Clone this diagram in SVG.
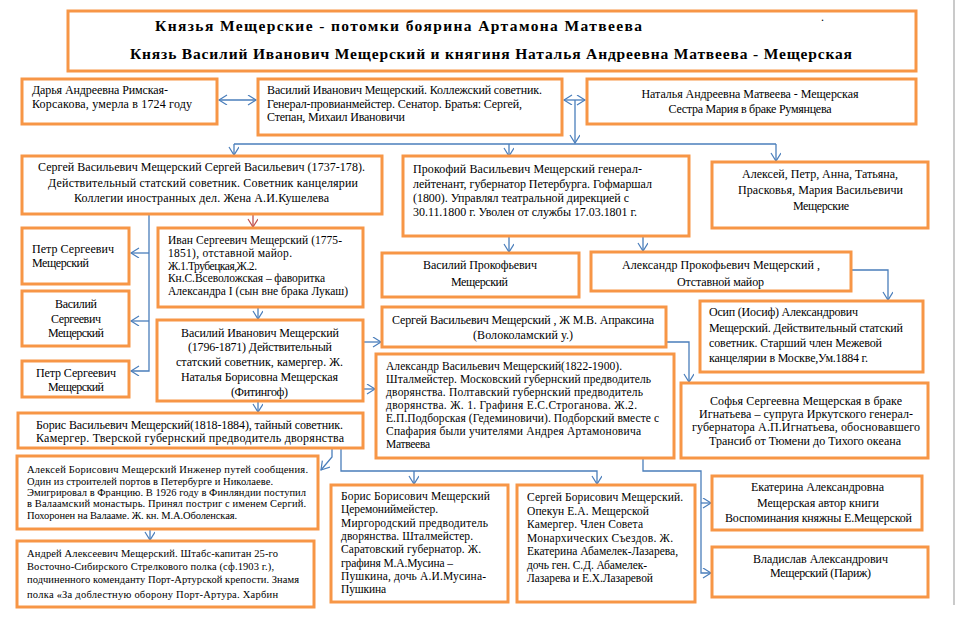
<svg xmlns="http://www.w3.org/2000/svg" width="959" height="623" viewBox="0 0 959 623" font-family="'Liberation Serif', 'DejaVu Serif', serif">
<style>
.box{fill:#fff;stroke:#f79646;stroke-width:3}
text{font-family:"Liberation Serif","DejaVu Serif",serif;fill:#000;font-size:12px}
.ttl{font-weight:bold;font-size:15.5px}
.s{font-size:11.5px}
.xs{font-size:10.5px}
.n{font-size:11.5px}
.m{text-anchor:middle}
.c{fill:none;stroke:#4a7ebb;stroke-width:1.3}
.r{fill:none;stroke:#c0504d;stroke-width:1.3}
</style>
<defs>
<marker id="a" markerUnits="userSpaceOnUse" markerWidth="12" markerHeight="12" refX="9" refY="5" orient="auto-start-reverse">
<path d="M1,0 L9,5 L1,10" fill="none" stroke="#4a7ebb" stroke-width="1.2"/>
</marker>
<marker id="ar" markerUnits="userSpaceOnUse" markerWidth="12" markerHeight="12" refX="9" refY="5" orient="auto">
<path d="M1,0 L9,5 L1,10" fill="none" stroke="#c0504d" stroke-width="1.2"/>
</marker>
</defs>
<rect width="959" height="623" fill="#fff"/>
<line x1="954" y1="0" x2="954" y2="605" stroke="#b8b8b8" stroke-width="1.5"/>

<g id="connectors">
<path class="c" d="M219,100 H256" marker-start="url(#a)" marker-end="url(#a)"/>
<path class="c" d="M564,100 H585" marker-start="url(#a)" marker-end="url(#a)"/>
<path class="c" d="M575,100 V143" marker-end="url(#a)"/>
<path class="c" d="M234,144 H776"/>
<path class="c" d="M234,144 V155" marker-end="url(#a)"/>
<path class="c" d="M509,144 V156" marker-end="url(#a)"/>
<path class="c" d="M776,144 V161" marker-end="url(#a)"/>
<path class="r" d="M253,215 V227" marker-end="url(#ar)"/>
<path class="c" d="M149,215 V371 H131" marker-end="url(#a)"/>
<path class="c" d="M149,253 H131" marker-end="url(#a)"/>
<path class="c" d="M149,321 H131" marker-end="url(#a)"/>
<path class="c" d="M258,308 V319" marker-end="url(#a)"/>
<path class="c" d="M364,342 H381" marker-end="url(#a)"/>
<path class="c" d="M364,389 H375" marker-end="url(#a)"/>
<path class="c" d="M258,402 V412" marker-end="url(#a)"/>
<path class="c" d="M509,237 V252" marker-end="url(#a)"/>
<path class="c" d="M643,237 V251" marker-end="url(#a)"/>
<path class="c" d="M852,270 H888 V300" marker-end="url(#a)"/>
<path class="c" d="M667,342 H689 V382" marker-end="url(#a)"/>
<path class="c" d="M643,459 V471 H701 V573 H711" marker-end="url(#a)"/>
<path class="c" d="M701,503 H711" marker-end="url(#a)"/>
<path class="c" d="M332,449 V457 L321,470" marker-end="url(#a)"/>
<path class="c" d="M341,449 V471 H597 V484" marker-end="url(#a)"/>
<path class="c" d="M414,471 V484" marker-end="url(#a)"/>
<path class="c" d="M150,530 V540" marker-end="url(#a)"/>
</g>

<g id="title">
<rect class="box" x="68" y="11" width="848" height="60"/>
<text class="ttl" x="155" y="31" textLength="487" lengthAdjust="spacing">Князья Мещерские - потомки боярина Артамона Матвеева</text>
<text class="ttl" x="130" y="59" textLength="722" lengthAdjust="spacing">Князь Василий Иванович Мещерский и княгиня Наталья Андреевна Матвеева - Мещерская</text>
<text x="821" y="21" font-size="10">.</text>
</g>

<g id="darya">
<rect class="box" x="22" y="79" width="195" height="45"/>
<text x="32" y="94" textLength="136" lengthAdjust="spacing">Дарья Андреевна Римская-</text>
<text x="32" y="108" textLength="160" lengthAdjust="spacing">Корсакова, умерла в 1724 году</text>
</g>

<g id="vasily">
<rect class="box" x="258" y="79" width="304" height="56"/>
<text x="267" y="94" textLength="275" lengthAdjust="spacing">Василий Иванович Мещерский. Коллежский советник.</text>
<text x="267" y="108" textLength="255" lengthAdjust="spacing">Генерал-провианмейстер. Сенатор. Братья: Сергей,</text>
<text x="267" y="121" textLength="138" lengthAdjust="spacing">Степан, Михаил Ивановичи</text>
</g>

<g id="natalya">
<rect class="box" x="587" y="79" width="329" height="45"/>
<text class="m" x="750" y="98" textLength="217" lengthAdjust="spacing">Наталья Андреевна Матвеева - Мещерская</text>
<text class="m" x="750" y="113" textLength="163" lengthAdjust="spacing">Сестра Мария в браке Румянцева</text>
</g>

<g id="sergey">
<rect class="box" x="22" y="156" width="360" height="58"/>
<text class="m" x="201.5" y="171" textLength="327" lengthAdjust="spacing">Сергей Васильевич Мещерский Сергей Васильевич (1737-178).</text>
<text class="m" x="203" y="187" textLength="310" lengthAdjust="spacing">Действительный статский советник. Советник канцелярии</text>
<text class="m" x="201.5" y="202" textLength="255" lengthAdjust="spacing">Коллегии иностранных дел. Жена А.И.Кушелева</text>
</g>

<g id="prokofy">
<rect class="box" x="403" y="156" width="286" height="80"/>
<text x="413" y="173" textLength="229" lengthAdjust="spacing">Прокофий Васильевич Мещерский генерал-</text>
<text x="413" y="188" textLength="239" lengthAdjust="spacing">лейтенант, губернатор Петербурга. Гофмаршал</text>
<text x="413" y="202" textLength="216" lengthAdjust="spacing">(1800). Управлял театральной дирекцией с</text>
<text x="413" y="216" textLength="224" lengthAdjust="spacing">30.11.1800 г. Уволен от службы 17.03.1801 г.</text>
</g>

<g id="siblings">
<rect class="box" x="712" y="162" width="216" height="66"/>
<text class="m" x="820" y="178" textLength="156" lengthAdjust="spacing">Алексей, Петр, Анна, Татьяна,</text>
<text class="m" x="820.5" y="194" textLength="165" lengthAdjust="spacing">Прасковья, Мария Васильевичи</text>
<text class="m" x="821" y="210" textLength="56" lengthAdjust="spacing">Мещерские</text>
</g>

<g id="petr1">
<rect class="box" x="22" y="228" width="107" height="56"/>
<text x="32" y="253" textLength="82" lengthAdjust="spacing">Петр Сергеевич</text>
<text x="32" y="267" textLength="57" lengthAdjust="spacing">Мещерский</text>
</g>

<g id="vasilyS">
<rect class="box" x="22" y="291" width="107" height="55"/>
<text class="m" x="76" y="308" textLength="42" lengthAdjust="spacing">Василий</text>
<text class="m" x="76" y="323" textLength="50" lengthAdjust="spacing">Сергеевич</text>
<text class="m" x="76" y="337" textLength="56" lengthAdjust="spacing">Мещерский</text>
</g>

<g id="petr2">
<rect class="box" x="22" y="361" width="107" height="36"/>
<text class="m" x="76" y="377" textLength="80" lengthAdjust="spacing">Петр Сергеевич</text>
<text class="m" x="76" y="391" textLength="56" lengthAdjust="spacing">Мещерский</text>
</g>

<g id="ivan">
<rect class="box" x="158" y="228" width="205" height="79"/>
<text class="s" x="168" y="244" textLength="174" lengthAdjust="spacing">Иван Сергеевич Мещерский (1775-</text>
<text class="s" x="168" y="257" textLength="124" lengthAdjust="spacing">1851), отставной майор.</text>
<text class="s" x="168" y="270" textLength="89" lengthAdjust="spacing">Ж.1.Трубецкая,Ж.2.</text>
<text class="s" x="168" y="282" textLength="157" lengthAdjust="spacing">Кн.С.Всеволожская – фаворитка</text>
<text class="s" x="168" y="295" textLength="180" lengthAdjust="spacing">Александра I (сын вне брака Лукаш)</text>
</g>

<g id="vasilyI">
<text class="m" x="260" y="337" textLength="158" lengthAdjust="spacing">Василий Иванович Мещерский</text>
<text class="m" x="260" y="351" textLength="144" lengthAdjust="spacing">(1796-1871) Действительный</text>
<text class="m" x="259.5" y="366" textLength="167" lengthAdjust="spacing">статский советник, камергер. Ж.</text>
<text class="m" x="259.5" y="381" textLength="157" lengthAdjust="spacing">Наталья Борисовна Мещерская</text>
<text class="m" x="259.5" y="396" textLength="57" lengthAdjust="spacing">(Фитингоф)</text>
<rect class="box" x="157" y="320" width="206" height="81" style="fill:none"/>
</g>

<g id="borisV">
<rect class="box" x="18" y="413" width="345" height="35"/>
<text x="36" y="429" textLength="307" lengthAdjust="spacing">Борис Васильевич Мещерский(1818-1884), тайный советник.</text>
<text x="36" y="442" textLength="308" lengthAdjust="spacing">Камергер. Тверской губернский предводитель дворянства</text>
</g>

<g id="vasilyProk">
<rect class="box" x="382" y="253" width="197" height="44"/>
<text class="m" x="480" y="269" textLength="114" lengthAdjust="spacing">Василий Прокофьевич</text>
<text class="m" x="479.5" y="286" textLength="57" lengthAdjust="spacing">Мещерский</text>
</g>

<g id="alexanderP">
<rect class="box" x="591" y="252" width="260" height="39"/>
<text class="m" x="721" y="269" textLength="198" lengthAdjust="spacing">Александр Прокофьевич Мещерский ,</text>
<text class="m" x="720.5" y="286" textLength="87" lengthAdjust="spacing">Отставной майор</text>
</g>

<g id="osip">
<rect class="box" x="700" y="301" width="223" height="71"/>
<text x="709" y="316" textLength="149" lengthAdjust="spacing">Осип (Иосиф) Александрович</text>
<text x="709" y="332" textLength="194" lengthAdjust="spacing">Мещерский. Действительный статский</text>
<text x="709" y="347" textLength="173" lengthAdjust="spacing">советник. Старший член Межевой</text>
<text x="709" y="362" textLength="159" lengthAdjust="spacing">канцелярии в Москве,Ум.1884 г.</text>
</g>

<g id="apraksin">
<rect class="box" x="382" y="307" width="284" height="40"/>
<text class="m" x="523" y="324" textLength="262" lengthAdjust="spacing">Сергей Васильевич Мещерский , Ж М.В. Апраксина</text>
<text class="m" x="523" y="339" textLength="100" lengthAdjust="spacing">(Волоколамский у.)</text>
</g>

<g id="alexanderV">
<rect class="box" x="376" y="354" width="298" height="104"/>
<text class="s" x="386" y="370" textLength="236" lengthAdjust="spacing">Александр Васильевич Мещерский(1822-1900).</text>
<text class="s" x="386" y="383" textLength="265" lengthAdjust="spacing">Шталмейстер. Московский губернский предводитель</text>
<text class="s" x="386" y="396" textLength="257" lengthAdjust="spacing">дворянства. Полтавский губернский предводитель</text>
<text class="s" x="386" y="409" textLength="251" lengthAdjust="spacing">дворянства. Ж. 1. Графиня Е.С.Строганова. Ж.2.</text>
<text class="s" x="386" y="422" textLength="273" lengthAdjust="spacing">Е.П.Подборская (Гедеминовичи). Подборский вместе с</text>
<text class="s" x="386" y="435" textLength="255" lengthAdjust="spacing">Спафария были учителями Андрея Артамоновича</text>
<text class="s" x="386" y="448" textLength="44" lengthAdjust="spacing">Матвеева</text>
</g>

<g id="sophia">
<rect class="box" x="681" y="383" width="247" height="75"/>
<text class="m" x="806" y="405" textLength="192" lengthAdjust="spacing">Софья Сергеевна Мещерская в браке</text>
<text class="m" x="806" y="418" textLength="214" lengthAdjust="spacing">Игнатьева – супруга Иркутского генерал-</text>
<text class="m" x="806" y="431" textLength="228" lengthAdjust="spacing">губернатора А.П.Игнатьева, обосновавшего</text>
<text class="m" x="805" y="445" textLength="192" lengthAdjust="spacing">Трансиб от Тюмени до Тихого океана</text>
</g>

<g id="ekaterina">
<rect class="box" x="712" y="476" width="210" height="54"/>
<text class="m" x="817.5" y="491" textLength="133" lengthAdjust="spacing">Екатерина Александровна</text>
<text class="m" x="818" y="507" textLength="122" lengthAdjust="spacing">Мещерская автор книги</text>
<text class="m" x="818.5" y="522" textLength="187" lengthAdjust="spacing">Воспоминания княжны Е.Мещерской</text>
</g>

<g id="vladislav">
<rect class="box" x="712" y="547" width="216" height="50"/>
<text class="m" x="820.5" y="563" textLength="135" lengthAdjust="spacing">Владислав Александрович</text>
<text class="m" x="820.5" y="577" textLength="101" lengthAdjust="spacing">Мещерский (Париж)</text>
</g>

<g id="alexeiB">
<rect class="box" x="17" y="456" width="301" height="73"/>
<text class="xs" x="27" y="473" textLength="281" lengthAdjust="spacing">Алексей Борисович Мещерский Инженер путей сообщения.</text>
<text class="xs" x="27" y="485" textLength="246" lengthAdjust="spacing">Один из строителей портов в Петербурге и Николаеве.</text>
<text class="xs" x="27" y="496" textLength="279" lengthAdjust="spacing">Эмигрировал в Францию. В 1926 году в Финляндии поступил</text>
<text class="xs" x="27" y="507" textLength="279" lengthAdjust="spacing">в Валаамский монастырь. Принял постриг с именем Сергий.</text>
<text class="xs" x="27" y="519" textLength="210" lengthAdjust="spacing">Похоронен на Валааме. Ж. кн. М.А.Оболенская.</text>
</g>

<g id="andrei">
<rect class="box" x="17" y="541" width="297" height="66"/>
<text class="xs" x="27" y="557" textLength="251" lengthAdjust="spacing">Андрей Алексеевич Мещерский. Штабс-капитан 25-го</text>
<text class="xs" x="27" y="570" textLength="247" lengthAdjust="spacing">Восточно-Сибирского Стрелкового полка (сф.1903 г.),</text>
<text class="xs" x="27" y="583" textLength="272" lengthAdjust="spacing">подчиненного коменданту Порт-Артурской крепости. Знамя</text>
<text class="xs" x="27" y="598" textLength="251" lengthAdjust="spacing">полка «За доблестную оборону Порт-Артура. Харбин</text>
</g>

<g id="borisB">
<rect class="box" x="331" y="485" width="177" height="117"/>
<text class="n" x="341" y="500" textLength="149" lengthAdjust="spacing">Борис Борисович Мещерский</text>
<text class="n" x="341" y="513.3" textLength="97" lengthAdjust="spacing">Церемониймейстер.</text>
<text class="n" x="341" y="526.6" textLength="147" lengthAdjust="spacing">Миргородский предводитель</text>
<text class="n" x="341" y="540" textLength="132" lengthAdjust="spacing">дворянства. Шталмейстер.</text>
<text class="n" x="341" y="553.3" textLength="140" lengthAdjust="spacing">Саратовский губернатор. Ж.</text>
<text class="n" x="341" y="566.6" textLength="112" lengthAdjust="spacing">графиня М.А.Мусина –</text>
<text class="n" x="341" y="580" textLength="145" lengthAdjust="spacing">Пушкина, дочь А.И.Мусина-</text>
<text class="n" x="341" y="593.3" textLength="45" lengthAdjust="spacing">Пушкина</text>
</g>

<g id="sergeyB">
<rect class="box" x="517" y="485" width="178" height="117"/>
<text class="n" x="527" y="501" textLength="156" lengthAdjust="spacing">Сергей Борисович Мещерский.</text>
<text class="n" x="527" y="514.5" textLength="122" lengthAdjust="spacing">Опекун Е.А. Мещерской</text>
<text class="n" x="527" y="528" textLength="116" lengthAdjust="spacing">Камергер. Член Совета</text>
<text class="n" x="527" y="541.5" textLength="146" lengthAdjust="spacing">Монархических Съездов. Ж.</text>
<text class="n" x="527" y="555" textLength="151" lengthAdjust="spacing">Екатерина Абамелек-Лазарева,</text>
<text class="n" x="527" y="568.5" textLength="120" lengthAdjust="spacing">дочь ген. С.Д. Абамелек-</text>
<text class="n" x="527" y="582" textLength="126" lengthAdjust="spacing">Лазарева и Е.Х.Лазаревой</text>
</g>
</svg>
